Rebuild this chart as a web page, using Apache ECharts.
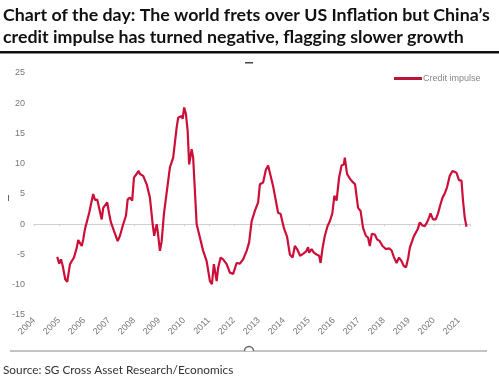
<!DOCTYPE html>
<html>
<head>
<meta charset="utf-8">
<script src="https://cdn.jsdelivr.net/npm/echarts@6/dist/echarts.min.js"></script>
<style>
html,body{margin:0;padding:0;background:#fff;}
#chart{width:499px;height:380px;}
</style>
</head>
<body>
<div id="chart"></div>
<script>
// ---- Data ----
const seriesName = 'Credit impulse';
const dates = [
  2004.93,2005.01,2005.08,2005.15,2005.25,2005.33,2005.44,2005.51,2005.60,2005.71,2005.77,2005.84,2005.91,2005.97,
  2006.04,2006.11,2006.21,2006.31,2006.37,2006.44,2006.53,2006.61,2006.71,2006.77,2006.84,2006.93,
  2007.01,2007.08,2007.13,2007.20,2007.28,2007.35,2007.44,2007.57,2007.68,2007.75,2007.84,2007.93,
  2008.00,2008.19,2008.24,2008.31,2008.37,2008.51,2008.64,2008.75,2008.81,2008.91,2008.95,
  2009.04,2009.11,2009.20,2009.28,2009.44,2009.57,2009.71,2009.77,2009.91,2009.95,
  2010.01,2010.08,2010.15,2010.21,2010.31,2010.37,2010.44,2010.51,2010.64,2010.77,2010.91,
  2011.04,2011.12,2011.20,2011.31,2011.37,2011.47,2011.57,2011.71,2011.84,2011.97,
  2012.11,2012.24,2012.37,2012.51,2012.61,2012.71,2012.84,2012.97,
  2013.04,2013.17,2013.28,2013.37,2013.47,2013.57,2013.65,2013.77,2013.87,
  2014.00,2014.13,2014.24,2014.35,2014.44,2014.53,2014.65,2014.77,2014.89,2014.97,
  2015.01,2015.11,2015.20,2015.31,2015.41,2015.47,2015.55,2015.64,2015.75,2015.84,2015.94,
  2016.02,2016.11,2016.21,2016.31,2016.40,2016.44,2016.53,2016.65,2016.75,2016.85,2016.97,
  2017.07,2017.17,2017.28,2017.37,2017.44,2017.52,2017.64,2017.73,2017.84,2017.95,
  2018.08,2018.21,2018.31,2018.40,2018.51,2018.61,2018.71,2018.80,2018.89,2018.98,
  2019.04,2019.12,2019.20,2019.28,2019.36,2019.44,2019.55,2019.64,2019.73,2019.81,2019.87,2019.97,
  2020.08,2020.17,2020.27,2020.35,2020.44,2020.53,2020.64,2020.75,2020.81,2020.91,
  2021.01,2021.11,2021.17,2021.24,2021.31
];
const values = [
  -5.4,-6.5,-5.8,-6.9,-9.1,-9.5,-6.6,-6.1,-5.5,-3.9,-2.6,-2.9,-3.6,-2.5,
  -0.8,-1.1,1.9,3.9,5.0,4.0,4.1,3.9,0.8,2.7,3.0,3.6,
  1.7,0.3,0.3,-1.1,-1.4,-2.8,-1.9,0.0,1.4,4.1,4.4,3.9,
  7.7,8.8,8.3,8.5,8.0,6.6,4.4,0.0,-1.9,0.0,-1.1,
  -4.4,-2.8,1.7,1.9,9.4,11.0,16.0,17.6,17.9,17.4,
  19.3,18.2,15.4,9.9,12.4,11.0,5.5,0.0,-2.2,-4.4,-6.1,
  -9.4,-9.9,-6.6,-9.4,-7.2,-5.5,-5.8,-6.6,-8.0,-8.2,
  -6.4,-6.5,-5.8,-4.4,-3.0,0.5,2.2,3.6,
  6.6,6.9,9.0,9.7,8.0,6.3,6.1,1.9,1.7,
  -0.6,-2.1,-5.0,-5.5,-3.6,-4.1,-5.2,-4.9,-4.5,-3.8,
  -4.7,-4.1,-4.7,-5.0,-5.2,-6.4,-3.9,-1.9,-0.3,0.5,1.8,
  4.7,3.9,7.7,9.7,9.9,11.0,8.3,7.5,7.0,6.6,2.7,
  2.2,-0.6,-1.9,-2.2,-3.6,-1.6,-1.7,-2.5,-2.8,-3.6,
  -4.1,-4.0,-4.3,-5.4,-6.4,-5.5,-6.1,-6.9,-7.1,-5.5,
  -3.9,-3.9,-2.0,-2.3,-0.8,0.3,-0.2,-0.3,0.3,1.1,1.8,0.8,
  0.8,1.8,3.3,4.4,5.1,6.1,8.0,8.8,9.1,8.5,
  7.3,7.2,3.9,1.1,-0.4
];
const yearTicks = [2004,2005,2006,2007,2008,2009,2010,2011,2012,2013,2014,2015,2016,2017,2018,2019,2020,2021];
const yTicks = [-15,-10,-5,0,5,10,15,20,25];
const titleLines = ['Chart of the day: The world frets over US Inflation but China\u2019s', 'credit impulse has turned negative, flagging slower growth'];
const sourceText = 'Source: SG Cross Asset Research/Economics';

const points = dates.map((d, i) => [d, values[i]]);
const xMin = yearTicks[0];
const xMax = 2021.45;

const chart = echarts.init(document.getElementById('chart'), null, {renderer: 'canvas'});
const option = {
  animation: false,
  backgroundColor: '#fff',
  grid: {left: 34, right: 29, top: 73, bottom: 65, containLabel: false},
  legend: {
    show: true,
    data: [{name: seriesName, icon: 'rect'}],
    left: 389, top: 69,
    itemWidth: 28, itemHeight: 3, itemGap: 0,
    textStyle: {fontSize: 9, color: '#888', fontFamily: 'Liberation Sans', padding: [0,0,0,-4]}
  },
  xAxis: [
    {
      type: 'value', min: xMin, max: xMax, interval: 1,
      axisLine: {onZero: true, lineStyle: {color: '#d0d0d0', width: 1}},
      axisTick: {show: true, length: 2, lineStyle: {color: '#d0d0d0'}},
      axisLabel: {show: false},
      splitLine: {show: false}
    },
    {
      type: 'value', min: xMin, max: xMax, interval: 1, position: 'bottom',
      axisLine: {show: false, onZero: false},
      axisTick: {show: false},
      splitLine: {show: false},
      axisLabel: {
        rotate: 45, fontSize: 9, color: '#777', fontFamily: 'Liberation Sans', margin: 4,
        formatter: v => (yearTicks.indexOf(Math.round(v)) >= 0 && Math.abs(v - Math.round(v)) < 1e-6) ? String(Math.round(v)) : ''
      }
    }
  ],
  yAxis: {
    type: 'value', min: yTicks[0], max: yTicks[yTicks.length - 1], interval: 5,
    axisLine: {show: false}, axisTick: {show: false}, splitLine: {show: false},
    axisLabel: {fontSize: 9, color: '#777', fontFamily: 'Liberation Sans', margin: 9}
  },
  series: [{
    name: seriesName, type: 'line', xAxisIndex: 0, data: points,
    symbol: 'none', showSymbol: false,
    lineStyle: {color: '#cc0f38', width: 2.2},
    itemStyle: {color: '#b8163a'}
  }],
  graphic: [
    {type: 'text', left: 3, top: 4, style: {text: titleLines.join('\n'), font: 'bold 17.8px Lato', fill: '#111', lineHeight: 22}},
    {type: 'rect', shape: {x: 0, y: 51, width: 499, height: 2.5}, style: {fill: '#111'}},
    {type: 'rect', shape: {x: 245, y: 62, width: 8, height: 1.5}, style: {fill: '#444'}},
    {type: 'rect', shape: {x: 8, y: 195, width: 1, height: 6}, style: {fill: '#666'}},
    {type: 'line', shape: {x1: 10, y1: 351, x2: 487, y2: 351}, style: {stroke: '#888', lineWidth: 1}},
    {type: 'arc', shape: {cx: 249, cy: 351, r: 4.5, startAngle: Math.PI, endAngle: 2 * Math.PI}, style: {stroke: '#666', fill: '#fff', lineWidth: 1.5}},
    {type: 'text', left: 3, top: 364, style: {text: sourceText, font: '11.8px Lato', fill: '#333'}}
  ]
};
chart.setOption(option);
</script>
</body>
</html>
